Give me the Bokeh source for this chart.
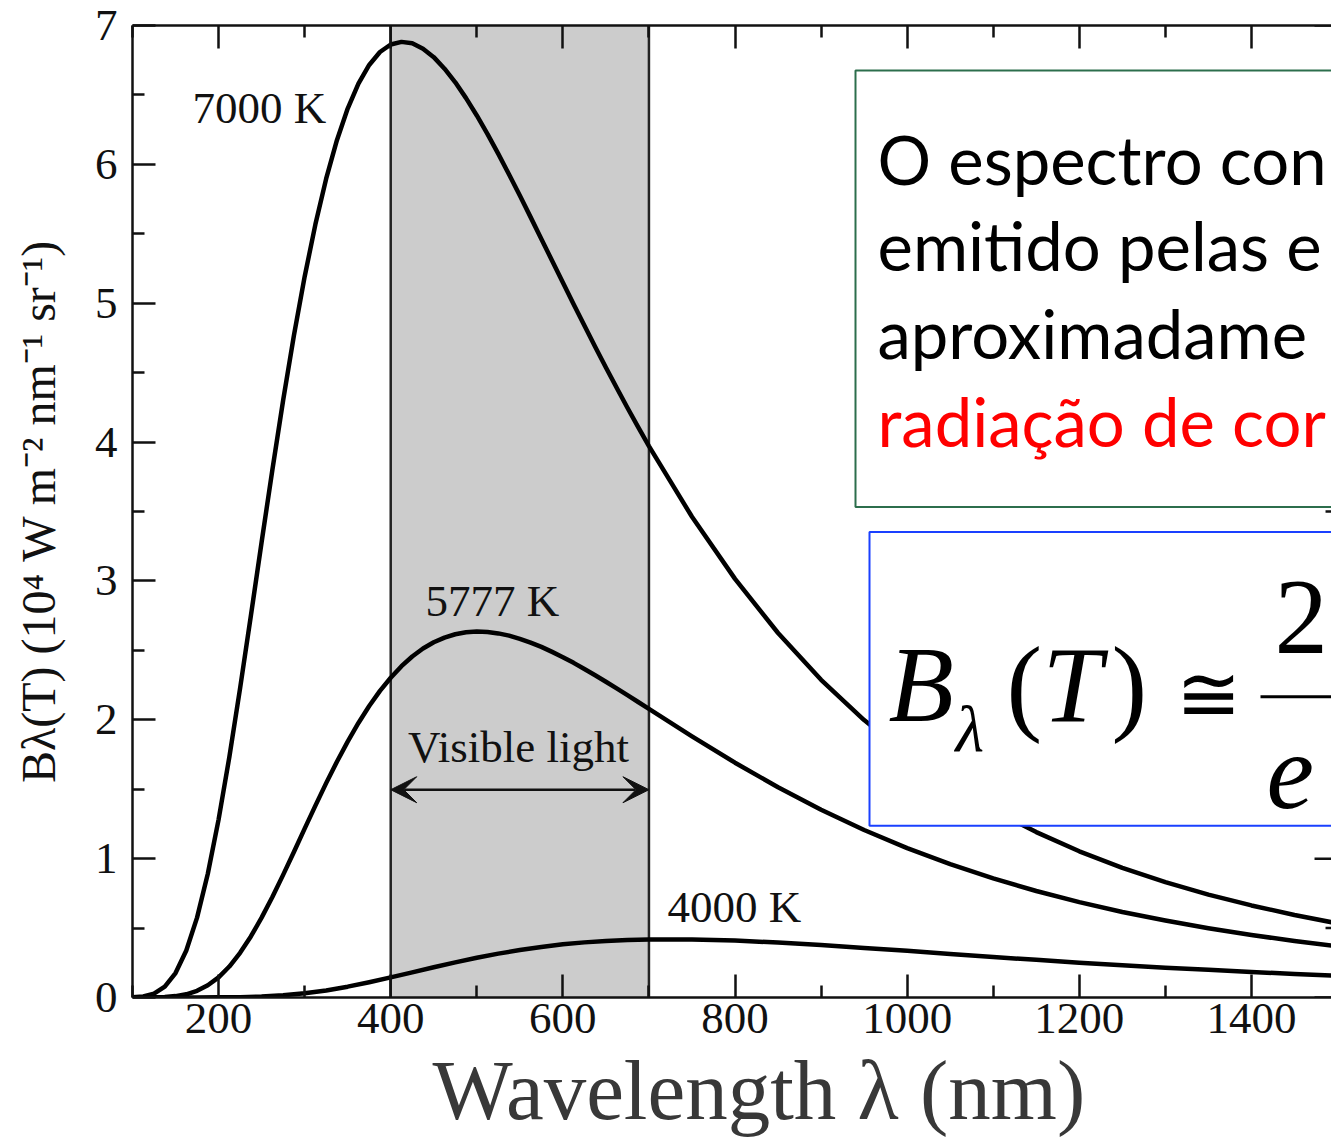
from bokeh.plotting import figure
from bokeh.models import (Range1d, LinearAxis, FixedTicker, BoxAnnotation, Span,
                          Label, Arrow, VeeHead, Title)
from bokeh.embed import file_html
from bokeh.resources import INLINE

# ---------------- data ----------------
wavelength_fine_nm = [100, 112.5, 125, 137.5, 150, 162.5, 175, 187.5, 200, 212.5, 225,
                      237.5, 250, 262.5, 275, 287.5, 300, 312.5, 325, 337.5, 350, 362.5,
                      375, 387.5, 400, 412.5, 425, 437.5, 450, 462.5, 475, 487.5, 500,
                      512.5, 525, 537.5, 550, 562.5, 575, 587.5, 600, 612.5, 625, 637.5,
                      650, 662.5, 675, 687.5, 700, 750, 800, 850, 900, 950, 1000, 1050,
                      1100, 1150, 1200, 1250, 1300, 1350, 1400, 1450, 1500]
b_7000K = [0.001, 0.008, 0.028, 0.078, 0.176, 0.338, 0.575, 0.891, 1.281, 1.731, 2.227,
           2.748, 3.279, 3.800, 4.300, 4.766, 5.191, 5.568, 5.897, 6.174, 6.402, 6.582,
           6.716, 6.809, 6.863, 6.882, 6.872, 6.833, 6.772, 6.689, 6.591, 6.477, 6.352,
           6.218, 6.075, 5.927, 5.775, 5.620, 5.463, 5.306, 5.149, 4.993, 4.839, 4.687,
           4.537, 4.391, 4.247, 4.107, 3.971, 3.462, 3.015, 2.625, 2.288, 1.998, 1.749,
           1.534, 1.350, 1.191, 1.053, 0.934, 0.831, 0.741, 0.663, 0.594, 0.534]
b_5777K = [0.000, 0.000, 0.001, 0.003, 0.010, 0.023, 0.048, 0.088, 0.145, 0.223, 0.322,
           0.440, 0.575, 0.724, 0.883, 1.048, 1.216, 1.382, 1.544, 1.698, 1.843, 1.977,
           2.099, 2.208, 2.303, 2.386, 2.456, 2.513, 2.558, 2.592, 2.616, 2.630, 2.635,
           2.632, 2.622, 2.606, 2.583, 2.556, 2.525, 2.489, 2.451, 2.410, 2.366, 2.321,
           2.274, 2.226, 2.178, 2.128, 2.079, 1.881, 1.691, 1.514, 1.352, 1.206, 1.076,
           0.960, 0.858, 0.767, 0.687, 0.616, 0.554, 0.499, 0.450, 0.407, 0.368]
wavelength_nm = [100, 125, 150, 175, 200, 225, 250, 275, 300, 325, 350, 375, 400, 425,
                 450, 475, 500, 525, 550, 575, 600, 625, 650, 675, 700, 750, 800, 850,
                 900, 950, 1000, 1050, 1100, 1150, 1200, 1250, 1300, 1350, 1400, 1450, 1500]
b_4000K = [0.000, 0.000, 0.000, 0.000, 0.001, 0.002, 0.007, 0.016, 0.030, 0.051, 0.078,
           0.110, 0.145, 0.181, 0.218, 0.253, 0.286, 0.316, 0.342, 0.364, 0.383, 0.397,
           0.407, 0.414, 0.418, 0.418, 0.410, 0.396, 0.378, 0.357, 0.336, 0.314, 0.292,
           0.271, 0.251, 0.233, 0.215, 0.199, 0.184, 0.170, 0.157]
curve_labels = ["7000 K", "5777 K", "4000 K"]
x_major_ticks = [200, 400, 600, 800, 1000, 1200, 1400]
x_minor_ticks = [100, 300, 500, 700, 900, 1100, 1300, 1500]
y_major_ticks = [0, 1, 2, 3, 4, 5, 6, 7]
y_minor_ticks = [0.5, 1.5, 2.5, 3.5, 4.5, 5.5, 6.5]
visible_band = [400, 700]
x_title = "Wavelength λ (nm)"
y_title = "Bλ(T) (10⁴ W m⁻² nm⁻¹ sr⁻¹)"
box_lines = ["O espectro con", "emitido pelas e", "aproximadame", "radiação de cor"]

# ---------------- layout helpers (pixel -> data) ----------------
W, H = 1331, 1142
FL, FT, FB = 132, 25, 998
X0, X1 = 100, 1493
SX = (W - FL) / (X1 - X0)
SY = (FB - FT) / 7.0
SERIF = "Liberation Serif"


def X(px):
    return X0 + (px - FL) / SX


def Y(py):
    return (FB - py) / SY


def YB(py, fs, k=0.35):
    # anchor for a text whose baseline should sit at pixel row py
    return Y(py - k * fs)


p = figure(width=W, height=H, output_backend="svg", toolbar_location=None,
           x_range=Range1d(X0, X1), y_range=Range1d(0, 7),
           x_axis_location=None, y_axis_location=None,
           min_border_left=FL, min_border_right=0, min_border_top=FT,
           min_border_bottom=H - FB)
p.grid.grid_line_color = None
p.outline_line_color = None
p.background_fill_color = "white"
p.border_fill_color = "white"


def style_axis(ax):
    ax.axis_line_width = 2.5
    ax.axis_line_color = "#111111"
    ax.major_tick_in = 23
    ax.major_tick_out = 0
    ax.minor_tick_in = 12
    ax.minor_tick_out = 0
    ax.major_tick_line_width = 2.5
    ax.minor_tick_line_width = 2.5
    ax.major_tick_line_color = "#111111"
    ax.minor_tick_line_color = "#111111"
    ax.major_label_text_font = SERIF
    ax.major_label_text_font_size = "45px"
    ax.major_label_text_color = "#111111"


xt = FixedTicker(ticks=x_major_ticks, minor_ticks=x_minor_ticks)
yt = FixedTicker(ticks=y_major_ticks, minor_ticks=y_minor_ticks)

bottom = LinearAxis(ticker=xt)
style_axis(bottom)
bottom.major_label_standoff = 6
p.add_layout(bottom, "below")

left = LinearAxis(ticker=yt)
style_axis(left)
left.major_label_standoff = 15
left.axis_label = y_title
left.axis_label_text_font = SERIF
left.axis_label_text_font_size = "48px"
left.axis_label_text_font_style = "normal"
left.axis_label_text_color = "#111111"
left.axis_label_standoff = 27
p.add_layout(left, "left")

top = LinearAxis(ticker=FixedTicker(ticks=x_major_ticks, minor_ticks=x_minor_ticks))
style_axis(top)
top.major_label_text_font_size = "1px"
top.major_label_text_color = None
top.major_label_standoff = 0
p.add_layout(top, "above")

p.add_layout(Title(text=x_title, align="left", offset=432 - FL, standoff=11,
                   text_font=SERIF, text_font_size="85px", text_font_style="normal",
                   text_color="#383838"), "below")

# visible band
p.add_layout(BoxAnnotation(left=visible_band[0], right=visible_band[1],
                           fill_color="#cccccc", fill_alpha=1, line_color=None,
                           level="underlay"))
for loc in visible_band:
    p.add_layout(Span(location=loc, dimension="height", line_color="#222222",
                      line_width=2.5, level="underlay"))

# mirror ticks of the (off-page) right axis
maj_len = 23 / SX
min_len = 12 / SX
p.segment(x0=[1500 - maj_len] * len(y_major_ticks), x1=[1500] * len(y_major_ticks),
          y0=y_major_ticks, y1=y_major_ticks, line_color="#111111", line_width=2.5)
p.segment(x0=[1500 - min_len] * len(y_minor_ticks), x1=[1500] * len(y_minor_ticks),
          y0=y_minor_ticks, y1=y_minor_ticks, line_color="#111111", line_width=2.5)

# curves
for xs, ys in ((wavelength_fine_nm, b_7000K), (wavelength_fine_nm, b_5777K),
               (wavelength_nm, b_4000K)):
    p.line(xs, ys, line_color="black", line_width=4.5, line_join="round")

# curve labels
for txt, (px, py) in zip(curve_labels, [(192, 123), (425, 617), (667, 923)]):
    p.add_layout(Label(x=X(px), y=YB(py, 45), text=txt, text_font=SERIF,
                       text_font_size="45px", text_color="#111111",
                       text_align="left", text_baseline="alphabetic"))

# visible light annotation
p.add_layout(Label(x=X(518), y=YB(763, 45), text="Visible light", text_font=SERIF,
                   text_font_size="45px", text_color="#111111",
                   text_align="center", text_baseline="alphabetic"))
p.add_layout(Arrow(start=VeeHead(size=26, fill_color="#111111", line_color="#111111"),
                   end=VeeHead(size=26, fill_color="#111111", line_color="#111111"),
                   x_start=visible_band[0], y_start=Y(790),
                   x_end=visible_band[1], y_end=Y(790),
                   line_color="#111111", line_width=2.5))

# green text box
p.add_layout(BoxAnnotation(left=X(855), right=X(1500), top=Y(70), bottom=Y(507),
                           fill_color="white", fill_alpha=1, line_color="#2c6e4c",
                           line_alpha=1, line_width=2))
for i, (txt, py) in enumerate(zip(box_lines, [185, 272, 360, 448])):
    p.add_layout(Label(x=X(877), y=YB(py, 67, 0.40), text=txt, text_font="Lato",
                       text_font_size="67px",
                       text_color="#ff0000" if i == 3 else "black",
                       text_align="left", text_baseline="alphabetic"))

# blue formula box
p.add_layout(BoxAnnotation(left=X(869), right=X(1500), top=Y(532), bottom=Y(826),
                           fill_color="white", fill_alpha=1, line_color="#1a40ff",
                           line_alpha=1, line_width=2))
fpieces = [
    ("B", 888, 723, 107, "italic"),
    ("λ", 955, 752, 66, "italic"),
    ("(", 1006, 723, 107, "normal"),
    ("T", 1042, 723, 107, "italic"),
    (")", 1111, 723, 107, "normal"),
    ("≅", 1175, 722, 78, "normal"),
    ("2", 1274, 655, 107, "normal"),
    ("e", 1266, 810, 107, "italic"),
]
for txt, px, py, fs, st in fpieces:
    p.add_layout(Label(x=X(px), y=YB(py, fs), text=txt, text_font=SERIF,
                       text_font_size=f"{fs}px", text_font_style=st,
                       text_color="black", text_align="left",
                       text_baseline="alphabetic"))
p.add_layout(BoxAnnotation(left=X(1260), right=X(1500), top=Y(695.5), bottom=Y(698.5),
                           fill_color="black", fill_alpha=1, line_color=None))

open("out.html", "w").write(file_html(p, INLINE))
